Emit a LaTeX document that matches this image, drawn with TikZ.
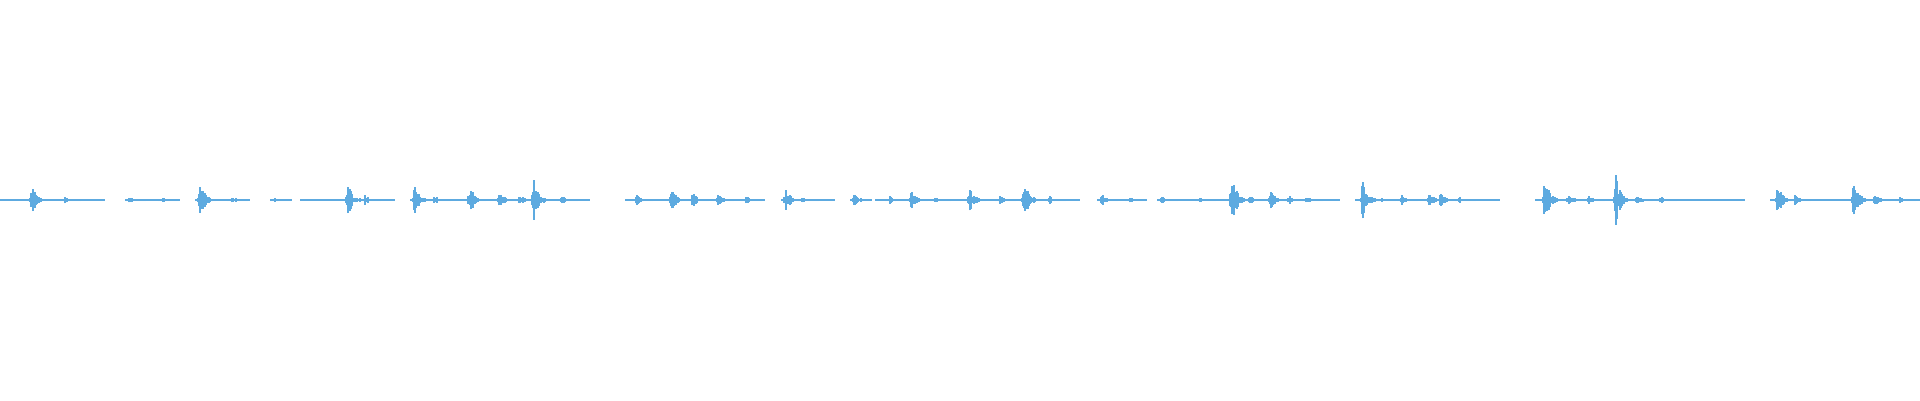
\documentclass[tikz,border=0pt]{standalone}
\definecolor{wave}{HTML}{5DAAE0}
\begin{document}
\begin{tikzpicture}[x=1pt,y=1pt]
\useasboundingbox (0,0) rectangle (1920,400);
\pgfmathsetseed{7}
\coordinate (base) at (0,200);
\foreach \s/\e in {0/105,125/175,195/250,300/395,430/590,625/715,735/765,785/835,875/1000,1010/1080,1100/1140,1160/1200,1210/1250,1265/1340,1355/1500,1535/1660,1678/1745,1770/1870,1880/1920}
  \draw[wave,line width=1.3pt] ([xshift=\s]base) -- ([xshift=\e]base);
\foreach \bx/\a in {32/15,65/4,130/4,163/2,200/22,232/4,275/3,348/20,365/5,415/15,435/4,470/15,500/8,520/6,534/20,562/4,637/6,672/12,693/8,718/8,746/5,786/12,803/3,855/8,890/5,912/12,935/4,970/12,1000/5,1024/22,1050/4,1102/6,1130/3,1162/4,1200/2,1232/25,1250/4,1271/10,1289/5,1307/4,1363/20,1380/3,1402/5,1429/8,1441/8,1460/3,1545/23,1569/6,1589/4,1616/25,1637/5,1661/4,1778/15,1795/5,1854/20,1875/6,1900/3}{
  \foreach \k in {-4,...,16}{
    \pgfmathsetmacro\env{\k<1 ? exp(-(\k*\k)/3) : exp(-\k/5)}
    \pgfmathsetmacro\h{max(1.2,\a*\env*(0.3+0.7*rnd))}
    \draw[wave,line width=1.1pt] ([xshift=\bx+\k,yshift=-\h]base) -- ([xshift=\bx+\k,yshift=\h]base);
  }
}
\end{tikzpicture}
\end{document}
